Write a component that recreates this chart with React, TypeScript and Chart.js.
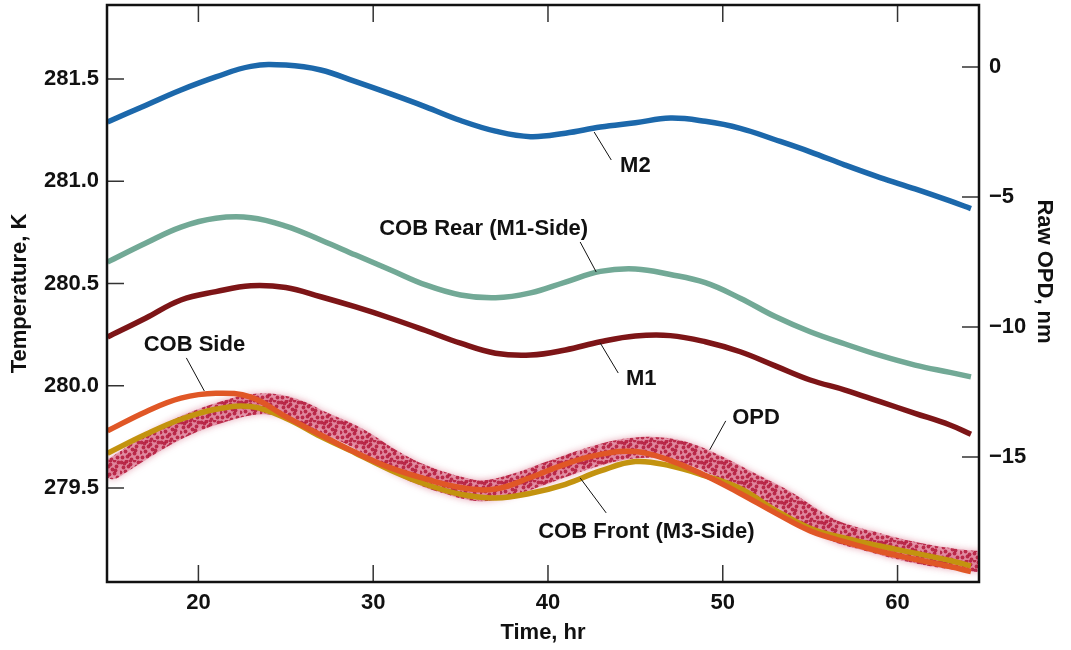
import { useEffect, useRef } from 'react';
import { Chart, registerables } from 'chart.js';

Chart.register(...registerables);

const FONT = '"Liberation Sans", Arial, Helvetica, sans-serif';

// Time (hr) sampling for the temperature curves
const hours = [14.8, 17, 19, 21, 23, 25, 27, 29, 31, 33, 35, 37, 39, 41, 43, 45, 47, 49, 51, 53, 55, 57, 59, 61, 63, 64.2];

// Temperatures, K
const m2 = [281.290, 281.372, 281.446, 281.510, 281.562, 281.568, 281.544, 281.487, 281.427, 281.364, 281.297, 281.245, 281.218, 281.235, 281.265, 281.286, 281.309, 281.293, 281.259, 281.203, 281.144, 281.079, 281.018, 280.963, 280.904, 280.866];
const cobRear = [280.605, 280.698, 280.776, 280.819, 280.822, 280.781, 280.713, 280.639, 280.566, 280.493, 280.444, 280.430, 280.454, 280.507, 280.559, 280.571, 280.544, 280.504, 280.428, 280.338, 280.264, 280.204, 280.148, 280.101, 280.065, 280.043];
const m1 = [280.238, 280.331, 280.419, 280.460, 280.489, 280.480, 280.435, 280.385, 280.330, 280.270, 280.208, 280.159, 280.150, 280.175, 280.215, 280.243, 280.245, 280.215, 280.166, 280.097, 280.028, 279.979, 279.922, 279.865, 279.808, 279.763];
const cobSide = [279.779, 279.873, 279.939, 279.963, 279.944, 279.849, 279.759, 279.673, 279.598, 279.544, 279.502, 279.495, 279.551, 279.617, 279.664, 279.678, 279.634, 279.561, 279.473, 279.378, 279.290, 279.236, 279.189, 279.151, 279.115, 279.091];
const cobFront = [279.670, 279.763, 279.836, 279.885, 279.898, 279.841, 279.751, 279.670, 279.587, 279.518, 279.469, 279.451, 279.474, 279.518, 279.583, 279.629, 279.608, 279.559, 279.497, 279.392, 279.303, 279.254, 279.216, 279.181, 279.145, 279.119];

// Raw OPD, nm
const opdHours = [15.1, 17.6, 19.5, 21.4, 23.4, 25.3, 27.2, 29.1, 31.0, 32.4, 34.3, 36.2, 38.1, 40.1, 42.0, 43.9, 45.8, 47.7, 49.6, 51.6, 53.5, 55.0, 56.5, 58.5, 60.3, 62.2, 64.2, 64.6];
const opdValues = [-15.45, -14.38, -13.72, -13.26, -12.96, -13.12, -13.69, -14.27, -15.08, -15.58, -16.04, -16.30, -16.04, -15.57, -15.12, -14.76, -14.63, -14.80, -15.31, -16.00, -16.65, -17.31, -17.87, -18.26, -18.58, -18.83, -19.00, -19.02];

// Axes
const xRange = [14.77, 64.66];
const tempRange = [279.04, 281.862];
const opdRange = [-19.81, 2.385];
const xTicks = [20, 30, 40, 50, 60];
const tempTicks = [279.5, 280.0, 280.5, 281.0, 281.5];
const opdTicks = [0, -5, -10, -15];

// Curve labels: text centre and leader line, in data coordinates (time, K)
const curveLabels = [
  { text: 'M2', x: 45.0, y: 281.075, from: [42.64, 281.241], to: [43.62, 281.104] },
  { text: 'COB Rear (M1-Side)', x: 36.32, y: 280.767, from: [42.76, 280.556], to: [41.84, 280.703] },
  { text: 'M1', x: 45.34, y: 280.033, from: [42.99, 280.209], to: [44.02, 280.062] },
  { text: 'OPD', x: 51.9, y: 279.842, from: [49.25, 279.686], to: [50.17, 279.828] },
  { text: 'COB Side', x: 19.77, y: 280.199, from: [20.34, 279.974], to: [19.31, 280.136] },
  { text: 'COB Front (M3-Side)', x: 45.63, y: 279.285, from: [41.84, 279.549], to: [43.33, 279.378] },
];

// speckle texture for the OPD band (style only)
const speckleDots = [[1, 2], [6, 1], [10, 4], [14, 0], [3, 7], [8, 6], [12, 9], [16, 6], [0, 12], [5, 11], [9, 14], [14, 13], [2, 17], [7, 16], [11, 19], [17, 17], [4, 3], [15, 10], [10, 0], [18, 2]];

const pts = (xs: number[], ys: number[]) => xs.map((x, i) => ({ x, y: ys[i] }));

const tickFont = { family: FONT, size: 22, weight: 'bold' as const };

function makeSpeckle(): CanvasPattern | string {
  const c = document.createElement('canvas');
  c.width = 20;
  c.height = 20;
  const g = c.getContext('2d');
  if (!g) return 'rgba(190,38,74,0.55)';
  g.fillStyle = 'rgba(216,90,124,0.45)';
  g.fillRect(0, 0, 20, 20);
  g.fillStyle = 'rgba(180,26,60,0.85)';
  for (const [x, y] of speckleDots) {
    g.beginPath();
    g.arc(x + 0.5, y + 0.5, 1.9, 0, Math.PI * 2);
    g.fill();
  }
  const p = g.createPattern(c, 'repeat');
  return p || 'rgba(190,38,74,0.55)';
}

const framePlugin = {
  id: 'framePlugin',
  beforeDatasetDraw(chart: any, args: any) {
    if (chart.data.datasets[args.index].label === 'OPD') {
      const ctx = chart.ctx;
      ctx.save();
      ctx.shadowColor = 'rgba(205,80,110,0.7)';
      ctx.shadowBlur = 7;
    }
  },
  afterDatasetDraw(chart: any, args: any) {
    if (chart.data.datasets[args.index].label === 'OPD') {
      chart.ctx.restore();
    }
  },
  afterDraw(chart: any) {
    const { ctx, chartArea: a, scales } = chart;
    const sx = scales.x;
    const sy = scales.y;
    const so = scales.y1;
    const L = 17;
    ctx.save();
    ctx.strokeStyle = '#333';
    ctx.lineWidth = 1.5;
    ctx.beginPath();
    for (const v of xTicks) {
      const px = sx.getPixelForValue(v);
      ctx.moveTo(px, a.bottom);
      ctx.lineTo(px, a.bottom - L);
      ctx.moveTo(px, a.top);
      ctx.lineTo(px, a.top + L);
    }
    for (const v of tempTicks) {
      const py = sy.getPixelForValue(v);
      ctx.moveTo(a.left, py);
      ctx.lineTo(a.left + L, py);
    }
    for (const v of opdTicks) {
      const py = so.getPixelForValue(v);
      ctx.moveTo(a.right, py);
      ctx.lineTo(a.right - L, py);
    }
    ctx.stroke();

    ctx.strokeStyle = '#111';
    ctx.lineWidth = 2.5;
    ctx.strokeRect(a.left, a.top, a.right - a.left, a.bottom - a.top);

    ctx.font = `bold 22px ${FONT}`;
    ctx.fillStyle = '#111';
    ctx.textAlign = 'center';
    ctx.textBaseline = 'middle';
    ctx.strokeStyle = '#111';
    ctx.lineWidth = 1;
    for (const l of curveLabels) {
      ctx.beginPath();
      ctx.moveTo(sx.getPixelForValue(l.from[0]), sy.getPixelForValue(l.from[1]));
      ctx.lineTo(sx.getPixelForValue(l.to[0]), sy.getPixelForValue(l.to[1]));
      ctx.stroke();
      ctx.fillText(l.text, sx.getPixelForValue(l.x), sy.getPixelForValue(l.y));
    }

    ctx.translate(chart.width - 27, (a.top + a.bottom) / 2 - 22);
    ctx.rotate(Math.PI / 2);
    ctx.fillText('Raw OPD, nm', 0, 0);
    ctx.restore();
  },
};

const fixVertical = (w: number) => (s: any) => {
  s.width = w;
  s.paddingTop = 0;
  s.paddingBottom = 0;
};

export default function App() {
  const ref = useRef<HTMLCanvasElement>(null);

  useEffect(() => {
    document.body.style.margin = '0';
    const line = (label: string, data: any, color: any, order: number, axis = 'y') => ({
      label,
      data,
      borderColor: color,
      backgroundColor: color,
      borderWidth: 5.5,
      pointRadius: 0,
      fill: false,
      tension: 0.4,
      yAxisID: axis,
      order,
      borderCapStyle: 'butt' as const,
    });
    const chart = new Chart(ref.current as HTMLCanvasElement, {
      type: 'line',
      data: {
        datasets: [
          line('COB Side', pts(hours, cobSide), '#e05726', 0),
          line('COB Front (M3-Side)', pts(hours, cobFront), '#c3930f', 1),
          line('M1', pts(hours, m1), '#7d1517', 2),
          line('COB Rear (M1-Side)', pts(hours, cobRear), '#72a996', 3),
          line('M2', pts(hours, m2), '#1c68ab', 4),
          { ...line('OPD', pts(opdHours, opdValues), makeSpeckle(), 10, 'y1'), borderWidth: 21, borderCapStyle: 'round' as const },
        ],
      },
      options: {
        animation: false,
        responsive: true,
        maintainAspectRatio: false,
        layout: { padding: { top: 5, left: 0, right: 0, bottom: 0 } },
        plugins: { legend: { display: false }, tooltip: { enabled: false } },
        scales: {
          x: {
            type: 'linear',
            position: 'bottom',
            min: xRange[0],
            max: xRange[1],
            afterBuildTicks: (s: any) => { s.ticks = xTicks.map((value) => ({ value })); },
            afterFit: (s: any) => { s.height = 68; s.paddingLeft = 0; s.paddingRight = 0; },
            grid: { display: false, drawTicks: false },
            border: { display: false },
            ticks: { font: tickFont, color: '#111', padding: 8, maxRotation: 0, autoSkip: false },
            title: { display: true, text: 'Time, hr', font: tickFont, color: '#111', padding: { top: 0, bottom: 4 } },
          },
          y: {
            type: 'linear',
            position: 'left',
            min: tempRange[0],
            max: tempRange[1],
            afterBuildTicks: (s: any) => { s.ticks = tempTicks.map((value) => ({ value })); },
            afterFit: fixVertical(107),
            grid: { display: false, drawTicks: false },
            border: { display: false },
            ticks: { font: tickFont, color: '#111', padding: 8, autoSkip: false, callback: (v: any) => Number(v).toFixed(1) },
            title: { display: true, text: 'Temperature, K', font: tickFont, color: '#111', padding: { top: 7, bottom: 0 } },
          },
          y1: {
            type: 'linear',
            position: 'right',
            min: opdRange[0],
            max: opdRange[1],
            afterBuildTicks: (s: any) => { s.ticks = opdTicks.map((value) => ({ value })); },
            afterFit: fixVertical(92),
            grid: { display: false, drawTicks: false },
            border: { display: false },
            ticks: {
              font: tickFont,
              color: '#111',
              padding: 10,
              autoSkip: false,
              callback: (v: any) => (Number(v) < 0 ? '\u2212' + Math.abs(Number(v)) : String(v)),
            },
          },
        },
      },
      plugins: [framePlugin],
    });
    return () => chart.destroy();
  }, []);

  return (
    <div style={{ position: 'fixed', left: 0, top: 0, width: 1071, height: 650, background: '#fff' }}>
      <canvas ref={ref} />
    </div>
  );
}
